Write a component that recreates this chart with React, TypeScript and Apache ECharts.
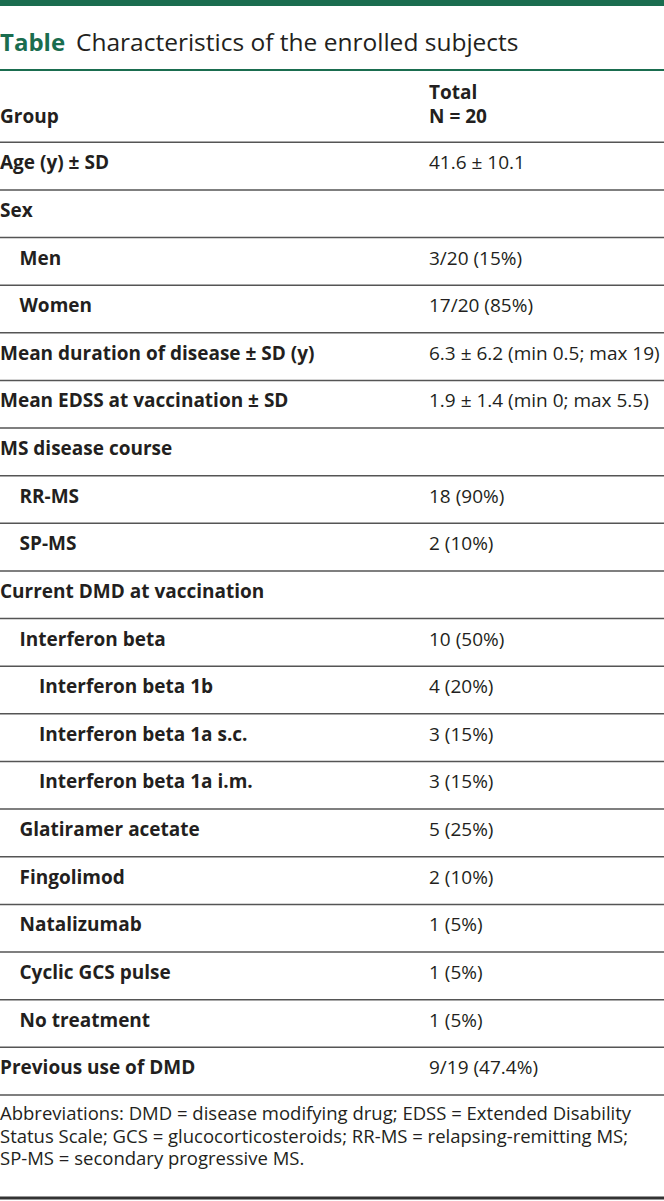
import React, { useEffect, useRef } from "react";
import * as echarts from "echarts";

const titleLabel = "Table";
const titleText = "Characteristics of the enrolled subjects";
const headerLeft = "Group";
const headerRight = ["Total", "N = 20"];

const rowLabels = [
  "Age (y) ± SD",
  "Sex",
  "Men",
  "Women",
  "Mean duration of disease ± SD (y)",
  "Mean EDSS at vaccination ± SD",
  "MS disease course",
  "RR-MS",
  "SP-MS",
  "Current DMD at vaccination",
  "Interferon beta",
  "Interferon beta 1b",
  "Interferon beta 1a s.c.",
  "Interferon beta 1a i.m.",
  "Glatiramer acetate",
  "Fingolimod",
  "Natalizumab",
  "Cyclic GCS pulse",
  "No treatment",
  "Previous use of DMD",
];
const rowValues = [
  "41.6 ± 10.1",
  "",
  "3/20 (15%)",
  "17/20 (85%)",
  "6.3 ± 6.2 (min 0.5; max 19)",
  "1.9 ± 1.4 (min 0; max 5.5)",
  "",
  "18 (90%)",
  "2 (10%)",
  "",
  "10 (50%)",
  "4 (20%)",
  "3 (15%)",
  "3 (15%)",
  "5 (25%)",
  "2 (10%)",
  "1 (5%)",
  "1 (5%)",
  "1 (5%)",
  "9/19 (47.4%)",
];
const rowIndent = [0, 0, 1, 1, 0, 0, 0, 1, 1, 0, 1, 2, 2, 2, 1, 1, 1, 1, 1, 0];
const footnoteLines = [
  "Abbreviations: DMD = disease modifying drug; EDSS = Extended Disability",
  "Status Scale; GCS = glucocorticosteroids; RR-MS = relapsing-remitting MS;",
  "SP-MS = secondary progressive MS.",
];

const GREEN = "#1a6d4f";
const TEXT = "#231f20";
const LINE = "#555555";
const FONT = "'Open Sans', 'Noto Sans', sans-serif";

export default function App() {
  const ref = useRef<HTMLDivElement>(null);
  useEffect(() => {
    document.body.style.margin = "0";
    const chart = echarts.init(ref.current!, null, { renderer: "svg" });
    const W = 664;
    const g: any[] = [];
    g.push({ type: "rect", shape: { x: 0, y: 0, width: W, height: 6 }, style: { fill: GREEN } });
    g.push({
      type: "text", x: 0, y: 41,
      style: { text: titleLabel, font: `bold 24px ${FONT}`, fill: GREEN, verticalAlign: "middle" },
    });
    g.push({
      type: "text", x: 76, y: 41,
      style: { text: titleText, font: `24.5px ${FONT}`, fill: TEXT, verticalAlign: "middle" },
    });
    g.push({ type: "rect", shape: { x: 0, y: 69, width: W, height: 2 }, style: { fill: GREEN } });
    const valX = 429;
    const bold = `bold 19px ${FONT}`;
    const reg = `19px ${FONT}`;
    g.push({
      type: "text", x: 0, y: 116,
      style: { text: headerLeft, font: bold, fill: TEXT, verticalAlign: "middle" },
    });
    g.push({
      type: "text", x: valX, y: 104,
      style: {
        text: headerRight.join("\n"), font: bold, fill: TEXT,
        verticalAlign: "middle", lineHeight: 24.5,
      },
    });
    const top = 142.3;
    const rh = 47.63;
    for (let i = 0; i <= rowLabels.length; i++) {
      const y = top + i * rh;
      g.push({
        type: "rect", shape: { x: 0, y: y - 0.75, width: W, height: 1.5 },
        style: { fill: LINE },
      });
    }
    rowLabels.forEach((lab, i) => {
      const y = top + i * rh + 20;
      g.push({
        type: "text", x: rowIndent[i] * 19.5, y,
        style: { text: lab, font: bold, fill: TEXT, verticalAlign: "middle" },
      });
      if (rowValues[i]) {
        g.push({
          type: "text", x: valX, y,
          style: { text: rowValues[i], font: reg, fill: TEXT, verticalAlign: "middle" },
        });
      }
    });
    g.push({
      type: "text", x: 0, y: 1135,
      style: {
        text: footnoteLines.join("\n"), font: `18.5px ${FONT}`, fill: TEXT,
        verticalAlign: "middle", lineHeight: 22.5,
      },
    });
    g.push({ type: "rect", shape: { x: 0, y: 1196.5, width: W, height: 3 }, style: { fill: "#333333" } });
    chart.setOption({ animation: false, graphic: { elements: g } });
    return () => chart.dispose();
  }, []);
  return <div ref={ref} style={{ width: 664, height: 1201 }} />;
}
